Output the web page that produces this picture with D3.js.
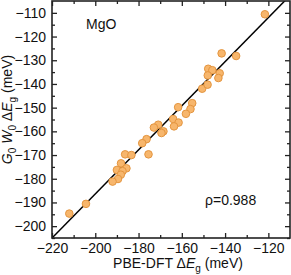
<!DOCTYPE html>
<html>
<head>
<meta charset="utf-8">
<script src="https://cdn.jsdelivr.net/npm/d3@7"></script>
<style>
  body { margin: 0; background: #fff; }
  text { font-family: "Liberation Sans", Arial, sans-serif; }
</style>
</head>
<body>
<div id="vis"></div>
<script>
// PBE-DFT vs G0W0 gap change (meV)
const pbeShift = [-121.6, -141.6, -134.9, -147.8, -145.9, -148.0, -142.5, -143.1, -150.6, -148.1,
  -155.2, -161.7, -156.0, -158.1, -164.0, -161.5, -163.6, -170.9, -172.9, -168.5,
  -169.4, -176.3, -178.3, -175.4, -186.2, -183.3, -188.1, -190.0, -185.6, -187.4,
  -188.2, -189.5, -192.0, -204.3, -212.0];
const gwShift = [-110.6, -127.1, -128.2, -133.6, -134.2, -136.4, -135.5, -137.5, -142.0, -140.3,
  -148.1, -149.8, -150.6, -152.6, -154.8, -156.3, -157.9, -157.2, -158.4, -160.0,
  -160.7, -163.3, -165.0, -169.7, -169.7, -170.0, -173.5, -176.3, -175.6, -176.8,
  -178.3, -180.1, -181.2, -190.6, -194.7];
const xTicks = [-220, -200, -180, -160, -140, -120];
const yTicks = [-110, -120, -130, -140, -150, -160, -170, -180, -190, -200];
const fitSlope = 0.93;
const fitIntercept = -0.4;
const corrLabel = "ρ=0.988";

const W = 291, H = 275;
const margin = { top: 1, right: 1, bottom: 37, left: 52 };
const width = W - margin.left - margin.right;
const height = H - margin.top - margin.bottom;

const svg = d3.select("#vis").append("svg")
  .attr("width", W).attr("height", H)
  .append("g")
  .attr("transform", `translate(${margin.left},${margin.top})`);

const x = d3.scaleLinear().domain([-220, -110]).range([0, width]);
const y = d3.scaleLinear().domain([-205, -105]).range([height, 0]);

const xMinor = d3.range(-210, -110, 20);
const yMinor = d3.range(-205, -105, 10);

function styleAxis(g) {
  g.select(".domain").remove();
  g.selectAll(".tick line").attr("stroke", "#222").attr("stroke-width", 1.3);
  g.selectAll(".tick text").attr("font-size", "14px").attr("fill", "#111")
    .attr("font-family", "Liberation Sans, Arial, sans-serif");
}

// bottom / left with labels
svg.append("g").attr("transform", `translate(0,${height})`)
  .call(d3.axisBottom(x).tickValues(xTicks).tickSize(-5).tickPadding(5).tickFormat(d3.format("d")))
  .call(styleAxis);
svg.append("g").attr("transform", `translate(0,${height})`)
  .call(d3.axisBottom(x).tickValues(xMinor).tickSize(-3).tickFormat(""))
  .call(styleAxis);
svg.append("g")
  .call(d3.axisLeft(y).tickValues(yTicks).tickSize(-5).tickPadding(6).tickFormat(d3.format("d")))
  .call(styleAxis);
svg.append("g")
  .call(d3.axisLeft(y).tickValues(yMinor).tickSize(-3).tickFormat(""))
  .call(styleAxis);

// mirrored ticks top / right
svg.append("g")
  .call(d3.axisTop(x).tickValues(xTicks).tickSize(-5).tickFormat(""))
  .call(styleAxis);
svg.append("g")
  .call(d3.axisTop(x).tickValues(xMinor).tickSize(-3).tickFormat(""))
  .call(styleAxis);
svg.append("g").attr("transform", `translate(${width},0)`)
  .call(d3.axisRight(y).tickValues(yTicks).tickSize(-5).tickFormat(""))
  .call(styleAxis);
svg.append("g").attr("transform", `translate(${width},0)`)
  .call(d3.axisRight(y).tickValues(yMinor).tickSize(-3).tickFormat(""))
  .call(styleAxis);

// fit line, clipped to the frame
svg.append("clipPath").attr("id", "clip")
  .append("rect").attr("width", width).attr("height", height);

const xs = x.domain();
svg.append("line")
  .attr("clip-path", "url(#clip)")
  .attr("x1", x(xs[0])).attr("y1", y(fitSlope * xs[0] + fitIntercept))
  .attr("x2", x(xs[1])).attr("y2", y(fitSlope * xs[1] + fitIntercept))
  .attr("stroke", "#000").attr("stroke-width", 1.5);

// points
svg.selectAll(".pt")
  .data(pbeShift.map((v, i) => [v, gwShift[i]]))
  .enter().append("circle")
  .attr("class", "pt")
  .attr("cx", d => x(d[0]))
  .attr("cy", d => y(d[1]))
  .attr("r", 3.8)
  .attr("fill", "#f7b66c")
  .attr("stroke", "#e4953f")
  .attr("stroke-width", 1);

// frame
svg.append("rect")
  .attr("width", width).attr("height", height)
  .attr("fill", "none").attr("stroke", "#222").attr("stroke-width", 1.6);

// labels
svg.append("text").attr("x", 34).attr("y", 27.5)
  .attr("font-size", "14px").attr("fill", "#111").text("MgO");
svg.append("text").attr("x", 153).attr("y", 204)
  .attr("font-size", "14px").attr("fill", "#111").text(corrLabel);

// x title
const xt = svg.append("text")
  .attr("x", 126).attr("y", 266.5)
  .attr("text-anchor", "middle")
  .attr("font-size", "14px").attr("fill", "#111");
xt.append("tspan").text("PBE-DFT Δ");
xt.append("tspan").attr("font-style", "italic").text("E");
xt.append("tspan").attr("font-size", "10px").attr("dy", 4).text("g");
xt.append("tspan").attr("dy", -4).text(" (meV)");

// y title
const yt = svg.append("text")
  .attr("transform", `translate(${12 - margin.left},${height / 2 - 10}) rotate(-90)`)
  .attr("text-anchor", "middle")
  .attr("font-size", "14px").attr("fill", "#111");
yt.append("tspan").attr("font-style", "italic").text("G");
yt.append("tspan").attr("font-size", "10px").attr("dy", 4).text("0");
yt.append("tspan").attr("font-style", "italic").attr("dy", -4).text(" W");
yt.append("tspan").attr("font-size", "10px").attr("dy", 4).text("0");
yt.append("tspan").attr("dy", -4).text(" Δ");
yt.append("tspan").attr("font-style", "italic").text("E");
yt.append("tspan").attr("font-size", "10px").attr("dy", 4).text("g");
yt.append("tspan").attr("dy", -4).text(" (meV)");
</script>
</body>
</html>
